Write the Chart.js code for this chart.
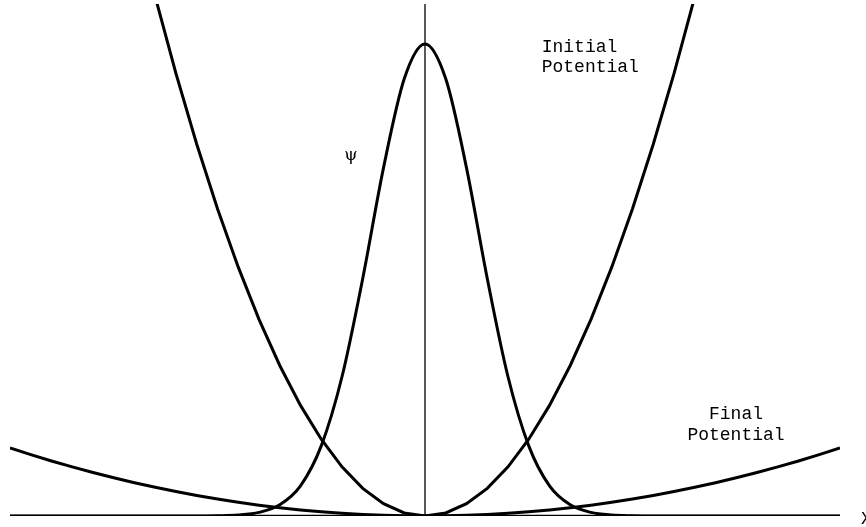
<!DOCTYPE html>
<html>
<head>
<meta charset="utf-8">
<script src="https://cdn.jsdelivr.net/npm/chart.js@4.4.1/dist/chart.umd.min.js"></script>
<style>
  body { margin: 0; background: #fff; }
  canvas { display: block; }
</style>
</head>
<body>
<canvas id="potentialChart" width="866" height="527"></canvas>
<script>
// x positions (arbitrary units, axis at 0)
const xs = [-5, -4.75, -4.5, -4.25, -4, -3.75, -3.5, -3.25, -3, -2.75, -2.5, -2.25, -2, -1.75, -1.5, -1.25, -1, -0.75, -0.5, -0.25,
  0, 0.25, 0.5, 0.75, 1, 1.25, 1.5, 1.75, 2, 2.25, 2.5, 2.75, 3, 3.25, 3.5, 3.75, 4, 4.25, 4.5, 4.75, 5];

// steep well, runs off the top
const initialPotential = [null, null, null, null, null, null, 11.76, 10.14, 8.64, 7.26, 6.0, 4.86, 3.84, 2.94, 2.16, 1.5, 0.96, 0.54, 0.24, 0.06,
  0, 0.06, 0.24, 0.54, 0.96, 1.5, 2.16, 2.94, 3.84, 4.86, 6.0, 7.26, 8.64, 10.14, 11.76, null, null, null, null, null, null];

// shallow well
const finalPotential = [1.328, 1.198, 1.075, 0.959, 0.85, 0.747, 0.65, 0.561, 0.478, 0.402, 0.332, 0.269, 0.212, 0.163, 0.119, 0.083, 0.053, 0.03, 0.013, 0.003,
  0, 0.003, 0.013, 0.03, 0.053, 0.083, 0.119, 0.163, 0.212, 0.269, 0.332, 0.402, 0.478, 0.561, 0.65, 0.747, 0.85, 0.959, 1.075, 1.198, 1.328];

// wave packet
const psi = [0, 0, 0, 0, 0, 0, 0, 0, 0, 0, 0.005, 0.019, 0.07, 0.22, 0.59, 1.37, 2.72, 4.64, 6.8, 8.54,
  9.22, 8.54, 6.8, 4.64, 2.72, 1.37, 0.59, 0.22, 0.07, 0.019, 0.005, 0, 0, 0, 0, 0, 0, 0, 0, 0, 0];

const xRange = [-5, 5];
const yRange = [0, 10];

function toPoints(values) {
  return xs.map((x, i) => ({ x: x, y: values[i] }));
}

// text labels, placed in data units
const labels = [
  { text: "Initial", x: 1.406, y: 9.06, align: "left", font: "18px 'Liberation Mono', monospace" },
  { text: "Potential", x: 1.406, y: 8.67, align: "left", font: "18px 'Liberation Mono', monospace" },
  { text: "Final", x: 3.747, y: 1.889, align: "center", font: "18px 'Liberation Mono', monospace" },
  { text: "Potential", x: 3.747, y: 1.484, align: "center", font: "18px 'Liberation Mono', monospace" },
  { text: "ψ", x: -0.892, y: 6.95, align: "center", font: "17px 'DejaVu Serif', serif" },
  { text: "X", x: 5.253, y: -0.156, align: "left", font: "18px 'Liberation Mono', monospace" },
];

const textPlugin = {
  id: "textLabels",
  afterDraw(chart) {
    const ctx = chart.ctx;
    const sx = chart.scales.x;
    const sy = chart.scales.y;
    ctx.save();
    ctx.fillStyle = "#000";
    ctx.textBaseline = "alphabetic";
    labels.forEach((l) => {
      ctx.font = l.font;
      ctx.textAlign = l.align;
      ctx.fillText(l.text, sx.getPixelForValue(l.x), sy.getPixelForValue(l.y));
    });
    ctx.restore();
  },
};

const curveStyle = {
  borderColor: "#000",
  borderWidth: 3,
  pointRadius: 0,
  fill: false,
  spanGaps: false,
};

new Chart(document.getElementById("potentialChart").getContext("2d"), {
  type: "line",
  data: {
    datasets: [
      Object.assign({ label: "axis x", data: [{ x: xRange[0], y: 0 }, { x: xRange[1], y: 0 }] }, curveStyle, { borderWidth: 2.5 }),
      Object.assign({ label: "axis y", data: [{ x: 0, y: yRange[0] }, { x: 0, y: yRange[1] }] }, curveStyle, { borderWidth: 1.3 }),
      Object.assign({ label: "Initial Potential", data: toPoints(initialPotential) }, curveStyle),
      Object.assign({ label: "Final Potential", data: toPoints(finalPotential) }, curveStyle),
      Object.assign({ label: "psi", data: toPoints(psi), cubicInterpolationMode: "monotone" }, curveStyle),
    ],
  },
  options: {
    responsive: false,
    animation: false,
    layout: { padding: { left: 10, right: 26, top: 4, bottom: 11 } },
    plugins: {
      legend: { display: false },
      tooltip: { enabled: false },
    },
    scales: {
      x: { type: "linear", min: xRange[0], max: xRange[1], display: false },
      y: { type: "linear", min: yRange[0], max: yRange[1], display: false },
    },
  },
  plugins: [textPlugin],
});
</script>
</body>
</html>
